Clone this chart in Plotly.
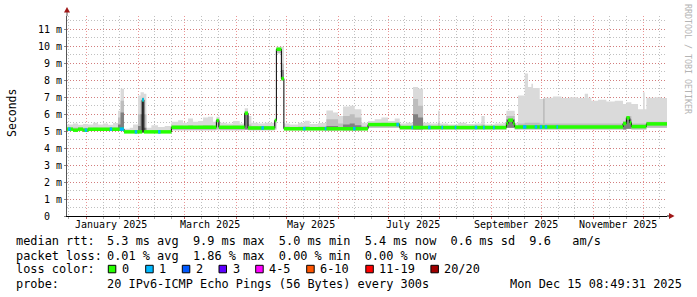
import numpy as np
import pandas as pd
import plotly.graph_objects as go

# ---------------- data (values in milliseconds) ----------------
T_START = "2024-12-20 08:49:31"
T_END = "2025-12-15 08:49:31"

# median rtt, step segments
med_start = ["2024-12-20 08:49:31", "2024-12-24", "2024-12-27", "2024-12-30", "2025-01-02",
             "2025-01-23 14:00", "2025-02-03 12:00", "2025-02-04 12:00", "2025-02-21",
             "2025-03-20", "2025-03-21 12:00", "2025-04-06", "2025-04-08", "2025-04-24",
             "2025-04-25", "2025-04-28", "2025-04-29 12:00", "2025-06-19", "2025-07-08",
             "2025-09-10", "2025-09-11", "2025-09-14", "2025-09-15", "2025-11-19",
             "2025-11-21", "2025-11-23", "2025-11-24", "2025-12-03"]
med_ms = [5.12, 5.06, 5.12, 5.06, 5.12,
          4.96, 6.85, 4.96, 5.23,
          5.63, 5.23, 6.06, 5.19, 5.63,
          9.83, 8.10, 5.15, 5.39, 5.22,
          5.45, 5.65, 5.45, 5.25, 5.45,
          5.79, 5.50, 5.27, 5.43]

# smoke (ping spread) segments
smoke_start = [
    "2024-12-20 08:49:31", "2024-12-24", "2024-12-27", "2024-12-30", "2025-01-02", "2025-01-05",
    "2025-01-08", "2025-01-11", "2025-01-14", "2025-01-17", "2025-01-20", "2025-01-21 12:00",
    "2025-01-23 14:00", "2025-01-27", "2025-01-29", "2025-02-01", "2025-02-02 12:00", "2025-02-03 12:00",
    "2025-02-04 12:00", "2025-02-06", "2025-02-09", "2025-02-13", "2025-02-17", "2025-02-21",
    "2025-02-25", "2025-02-28", "2025-03-03", "2025-03-06", "2025-03-09", "2025-03-12",
    "2025-03-15", "2025-03-18", "2025-03-20", "2025-03-22", "2025-03-26", "2025-03-30",
    "2025-04-03", "2025-04-06", "2025-04-08", "2025-04-10", "2025-04-14", "2025-04-18",
    "2025-04-24", "2025-04-25", "2025-04-28", "2025-04-29 12:00", "2025-05-03", "2025-05-08",
    "2025-05-12", "2025-05-15", "2025-05-20", "2025-05-25", "2025-05-29", "2025-06-01",
    "2025-06-04", "2025-06-08", "2025-06-11", "2025-06-15", "2025-06-19", "2025-06-23",
    "2025-06-27", "2025-07-01", "2025-07-05", "2025-07-08", "2025-07-12", "2025-07-16",
    "2025-07-19", "2025-07-22", "2025-07-26", "2025-07-31", "2025-08-01", "2025-08-06",
    "2025-08-12", "2025-08-17", "2025-08-22", "2025-08-26", "2025-08-28", "2025-09-03",
    "2025-09-08", "2025-09-10", "2025-09-15", "2025-09-17", "2025-09-21", "2025-09-23",
    "2025-09-25", "2025-09-26", "2025-09-30", "2025-10-02", "2025-10-03", "2025-10-08",
    "2025-10-13", "2025-10-18", "2025-10-23", "2025-10-27", "2025-10-29", "2025-10-31",
    "2025-11-04", "2025-11-09", "2025-11-14", "2025-11-19", "2025-11-21", "2025-11-24",
    "2025-11-28", "2025-12-01", "2025-12-02", "2025-12-03", "2025-12-08", "2025-12-12"]
smoke_lo = [
    5.05, 5.00, 5.05, 5.00, 5.05, 5.05,
    5.05, 5.05, 5.05, 5.05, 5.05, 5.05,
    4.90, 4.90, 4.90, 4.90, 4.90, 4.90,
    4.90, 4.90, 4.90, 4.90, 4.90, 5.05,
    5.05, 5.05, 5.05, 5.05, 5.05, 5.05,
    5.05, 5.05, 5.10, 5.05, 5.05, 5.05,
    5.05, 5.10, 5.05, 5.05, 5.05, 5.05,
    5.10, 9.60, 8.00, 5.05, 5.05, 5.05,
    5.05, 5.05, 5.05, 5.05, 5.05, 5.05,
    5.05, 5.05, 5.05, 5.05, 5.20, 5.20,
    5.20, 5.20, 5.20, 5.10, 5.10, 5.10,
    5.10, 5.10, 5.10, 5.10, 5.10, 5.10,
    5.10, 5.10, 5.10, 5.10, 5.10, 5.10,
    5.10, 5.20, 5.10, 5.10, 5.10, 5.10,
    5.10, 5.10, 5.10, 5.10, 5.10, 5.10,
    5.10, 5.10, 5.10, 5.10, 5.10, 5.10,
    5.10, 5.10, 5.10, 5.10, 5.15, 5.10,
    5.10, 5.10, 5.10, 5.20, 5.20, 5.20]
smoke_hi = [
    5.40, 5.45, 5.38, 5.42, 5.40, 5.50,
    5.40, 5.45, 5.38, 5.48, 6.20, 7.50,
    5.15, 5.20, 5.40, 7.10, 7.30, 7.30,
    7.20, 5.20, 5.35, 5.25, 5.30, 5.55,
    5.65, 5.50, 5.75, 5.55, 5.60, 5.80,
    5.85, 5.55, 5.85, 5.50, 5.45, 5.60,
    5.45, 6.35, 5.90, 5.50, 5.45, 5.50,
    5.75, 9.97, 9.97, 5.45, 5.40, 5.50,
    5.62, 5.42, 5.48, 6.22, 6.10, 5.90,
    6.45, 6.50, 6.30, 5.50, 5.60, 5.70,
    5.80, 5.60, 5.75, 5.45, 5.50, 7.60,
    7.50, 5.50, 5.45, 6.20, 5.45, 5.40,
    5.50, 5.42, 5.45, 5.90, 5.40, 5.45,
    5.50, 6.20, 5.50, 7.10, 8.40, 7.60,
    7.80, 7.55, 6.90, 6.95, 6.97, 7.05,
    6.95, 7.00, 6.95, 7.20, 6.97, 6.80,
    6.85, 6.75, 6.80, 6.60, 6.70, 6.60,
    6.30, 7.30, 6.30, 6.97, 7.00, 6.95]
smoke_mid = [
    5.20, 5.22, 5.20, 5.20, 5.20, 5.22,
    5.20, 5.20, 5.20, 5.22, 5.80, 6.80,
    5.00, 5.00, 5.05, 6.00, 6.80, 7.00,
    6.00, 5.00, 5.05, 5.00, 5.00, 5.32,
    5.32, 5.30, 5.35, 5.30, 5.32, 5.35,
    5.35, 5.30, 5.70, 5.30, 5.30, 5.32,
    5.30, 6.15, 5.40, 5.30, 5.28, 5.30,
    5.65, 9.90, 9.00, 5.28, 5.25, 5.28,
    5.30, 5.25, 5.28, 5.70, 5.70, 5.45,
    5.90, 6.00, 5.80, 5.30, 5.45, 5.45,
    5.50, 5.45, 5.50, 5.30, 5.30, 6.90,
    6.50, 5.30, 5.30, 5.50, 5.30, 5.28,
    5.30, 5.28, 5.28, 5.40, 5.28, 5.30,
    5.30, 5.90, 5.30, 5.45, 5.50, 5.50,
    5.50, 5.50, 5.45, 6.90, 5.45, 5.45,
    5.45, 5.45, 5.45, 5.45, 5.45, 5.45,
    5.45, 5.45, 5.45, 5.60, 5.90, 5.45,
    5.45, 5.45, 5.45, 5.55, 5.55, 5.55]
smoke_dark = [
    0, 0, 0, 0, 0, 0,
    0, 0, 0, 0, 5.40, 6.10,
    0, 0, 0, 5.30, 6.00, 6.90,
    5.20, 0, 0, 0, 0, 0,
    0, 0, 0, 0, 0, 0,
    0, 0, 0, 0, 0, 0,
    0, 6.00, 0, 0, 0, 0,
    0, 0, 8.60, 0, 0, 0,
    0, 0, 0, 5.30, 5.30, 0,
    5.40, 5.45, 5.35, 0, 0, 0,
    0, 0, 0, 0, 0, 6.00,
    5.80, 0, 0, 0, 0, 0,
    0, 0, 0, 0, 0, 0,
    0, 5.70, 0, 0, 0, 0,
    0, 0, 0, 0, 0, 0,
    0, 0, 0, 0, 0, 0,
    0, 0, 0, 5.50, 5.70, 0,
    0, 0, 0, 0, 0, 0]

# spots with 1/20 packet loss
loss1_start = ["2024-12-21", "2024-12-31", "2025-01-15", "2025-01-21", "2025-01-30",
               "2025-02-03 12:00", "2025-02-13", "2025-04-16", "2025-05-11", "2025-05-24",
               "2025-06-10", "2025-07-06", "2025-07-15", "2025-07-25", "2025-08-02",
               "2025-08-10", "2025-08-22", "2025-08-27", "2025-09-02", "2025-09-20",
               "2025-09-27", "2025-09-30", "2025-10-03", "2025-10-10"]
loss1_days = [1.5, 1.5, 1.5, 2.5, 1.5,
              1.0, 1.5, 1.5, 1.5, 1.0,
              1.5, 1.5, 1.0, 1.5, 1.0,
              1.0, 1.5, 1.0, 1.0, 2.0,
              1.5, 1.5, 1.5, 1.0]

# axis / legend text
y_ticks = [0, 1, 2, 3, 4, 5, 6, 7, 8, 9, 10, 11]
y_ticktext = ["0\u00a0\u00a0"] + [f"{v}\u00a0m" for v in y_ticks[1:]]
month_labels = ["January 2025", "March 2025", "May 2025", "July 2025", "September 2025", "November 2025"]
month_label_dates = ["2025-01-16", "2025-03-16", "2025-05-16", "2025-07-16", "2025-09-16", "2025-11-16"]
stat_rtt = ["5.3 ms avg", "9.9 ms max", "5.0 ms min", "5.4 ms now", "0.6 ms sd", "9.6   am/s"]
stat_loss = ["0.01 % avg", "1.86 % max", "0.00 % min", "0.00 % now"]
loss_labels = ["0", "1", "2", "3", "4-5", "6-10", "11-19", "20/20"]
loss_colors = ["#26ff00", "#00b8ff", "#0059ff", "#5e00ff", "#ff00ff", "#ff5500", "#ff0000", "#a00000"]
probe_text = "20 IPv6-ICMP Echo Pings (56 Bytes) every 300s"
stamp_text = "Mon Dec 15 08:49:31 2025"

# ---------------- layout geometry ----------------
W, H = 697, 297
L, R, T, B = 67, 30, 16, 81
PW, PH = W - L - R, H - T - B
MONO = "DejaVu Sans Mono"


def ts(lst):
    return [pd.Timestamp(s) for s in lst]


def px(x):
    return (x - L) / PW


def py(y):
    return (H - B - y) / PH


def step_xy(starts, vals):
    xs = ts(starts) + [pd.Timestamp(T_END)]
    ys = list(vals) + [vals[-1]]
    return xs, ys


fig = go.Figure()

# smoke
lo = np.array(smoke_lo, dtype=float)
for hi, col in [(smoke_hi, "#dadada"), (smoke_mid, "#bdbdbd"), (smoke_dark, "#808080")]:
    top = np.maximum(np.array(hi, dtype=float), lo)
    xs, ylo = step_xy(smoke_start, list(lo))
    _, yhi = step_xy(smoke_start, list(top))
    fig.add_trace(go.Scatter(x=xs, y=ylo, mode="lines", line=dict(width=0, shape="hv"),
                             hoverinfo="skip", showlegend=False))
    fig.add_trace(go.Scatter(x=xs, y=yhi, mode="lines", line=dict(width=0, shape="hv"),
                             fill="tonexty", fillcolor=col, hoverinfo="skip", showlegend=False))

# median black step line
xs, ys = step_xy(med_start, med_ms)
fig.add_trace(go.Scatter(x=xs, y=ys, mode="lines", line=dict(color="#000000", width=1, shape="hv"),
                         hoverinfo="skip", showlegend=False))

# loss colored median band (0 loss)
edges = ts(med_start) + [pd.Timestamp(T_END)]
gx, gy = [], []
for i, v in enumerate(med_ms):
    gx += [edges[i], edges[i + 1], None]
    gy += [v, v, None]
fig.add_trace(go.Scatter(x=gx, y=gy, mode="lines", line=dict(color=loss_colors[0], width=3.5),
                         hoverinfo="skip", showlegend=False, connectgaps=False))

# 1/20 loss spots
med_t = np.array([t.value for t in ts(med_start)])
bx, by = [], []
for s, d in zip(loss1_start, loss1_days):
    t0 = pd.Timestamp(s)
    idx = int(np.searchsorted(med_t, t0.value, side="right")) - 1
    v = med_ms[idx]
    bx += [t0, t0 + pd.Timedelta(days=d), None]
    by += [v, v, None]
fig.add_trace(go.Scatter(x=bx, y=by, mode="lines", line=dict(color=loss_colors[1], width=3.5),
                         hoverinfo="skip", showlegend=False, connectgaps=False))

# minor vertical grid on the 11th and 21st of each month
minor_x = []
for m in pd.date_range("2024-12-01", "2025-12-01", freq="MS"):
    for dd in (10, 20):
        t = m + pd.Timedelta(days=dd)
        if pd.Timestamp(T_START) < t < pd.Timestamp(T_END):
            minor_x.append(t)

RED = "rgba(222,80,80,0.6)"
GRAY = "rgba(140,140,140,0.55)"
fig.update_xaxes(type="date", range=[T_START, T_END], showticklabels=False,
                 showgrid=True, gridcolor=RED, griddash="1px,2px", gridwidth=1,
                 tick0="2025-01-01", dtick="M1", ticks="outside", ticklen=2, tickcolor="#c06060",
                 minor=dict(tickmode="array", tickvals=minor_x, showgrid=True, gridcolor=GRAY,
                            griddash="1px,2px", ticks="outside", ticklen=2, tickcolor="#aaaaaa"),
                 showline=True, linecolor="#000000", linewidth=1, zeroline=False, fixedrange=True)
fig.update_yaxes(range=[0, 11.79], tickmode="array", tickvals=y_ticks, ticktext=y_ticktext,
                 tickfont=dict(family=MONO, size=10, color="#000000"),
                 showgrid=True, gridcolor=RED, griddash="1px,2px",
                 minor=dict(dtick=0.5, tick0=0, showgrid=True, gridcolor=GRAY, griddash="1px,2px"),
                 ticks="outside", ticklen=2, tickcolor="#888888",
                 showline=True, linecolor="#555555", linewidth=1, zeroline=False, fixedrange=True)

shapes = []
# axis extensions and arrows
ARROW = "#a01818"
shapes.append(dict(type="line", xref="paper", yref="paper", x0=px(67), x1=px(67), y0=1, y1=py(9),
                   line=dict(color="#555555", width=1)))
shapes.append(dict(type="line", xref="paper", yref="paper", x0=1, x1=px(671), y0=0, y1=0,
                   line=dict(color="#000000", width=1)))
shapes.append(dict(type="path", xref="paper", yref="paper", fillcolor=ARROW, line=dict(width=0),
                   path=f"M {px(64)} {py(12.5)} L {px(70)} {py(12.5)} L {px(67)} {py(7)} Z"))
shapes.append(dict(type="path", xref="paper", yref="paper", fillcolor=ARROW, line=dict(width=0),
                   path=f"M {px(669)} {py(213)} L {px(669)} {py(219)} L {px(674.5)} {py(216)} Z"))

annotations = []


def ann(x, y, text, size=11.9, xanchor="left", angle=0, color="#000000", xref="paper"):
    annotations.append(dict(x=x if xref != "paper" else px(x), y=py(y), xref=xref, yref="paper",
                            text=text.replace(" ", "\u00a0"), showarrow=False, xanchor=xanchor,
                            yanchor="middle", textangle=angle, borderpad=0, borderwidth=0,
                            font=dict(family=MONO, size=size, color=color)))


# month labels
for lab, d in zip(month_labels, month_label_dates):
    ann(d, 224.5, lab, size=10, xanchor="center", xref="x")

ann(12, 113, "Seconds", size=11.5, xanchor="center", angle=-90)
ann(688, 59, "RRDTOOL / TOBI OETIKER", size=8.3, xanchor="center", angle=90, color="#b4b4b4")

LX, VX = 16, 107.3
ann(LX, 241, "median rtt:")
ann(VX, 241, "  ".join(stat_rtt))
ann(LX, 255.5, "packet loss:")
ann(VX, 255.5, "  ".join(stat_loss))
ann(LX, 269.3, "loss color:")
box_x = [108.3, 145.7, 182.3, 219.0, 255.7, 306.7, 365.8, 430.9]
for bxp, lab, col in zip(box_x, loss_labels, loss_colors):
    shapes.append(dict(type="rect", xref="paper", yref="paper", x0=px(bxp), x1=px(bxp + 7.5),
                       y0=py(272.8), y1=py(265.3), fillcolor=col, line=dict(color="#000000", width=1)))
    ann(bxp + 13.5, 269.3, lab)
ann(LX, 284, "probe:")
ann(VX, 284, probe_text)
ann(682, 284, stamp_text, xanchor="right")

fig.update_layout(width=W, height=H, margin=dict(l=L, r=R, t=T, b=B, pad=0),
                  paper_bgcolor="#ffffff", plot_bgcolor="#ffffff", showlegend=False,
                  hovermode=False, shapes=shapes, annotations=annotations,
                  font=dict(family=MONO, size=10, color="#000000"))

fig.write_html("out.html", config={"displayModeBar": False, "staticPlot": True})
